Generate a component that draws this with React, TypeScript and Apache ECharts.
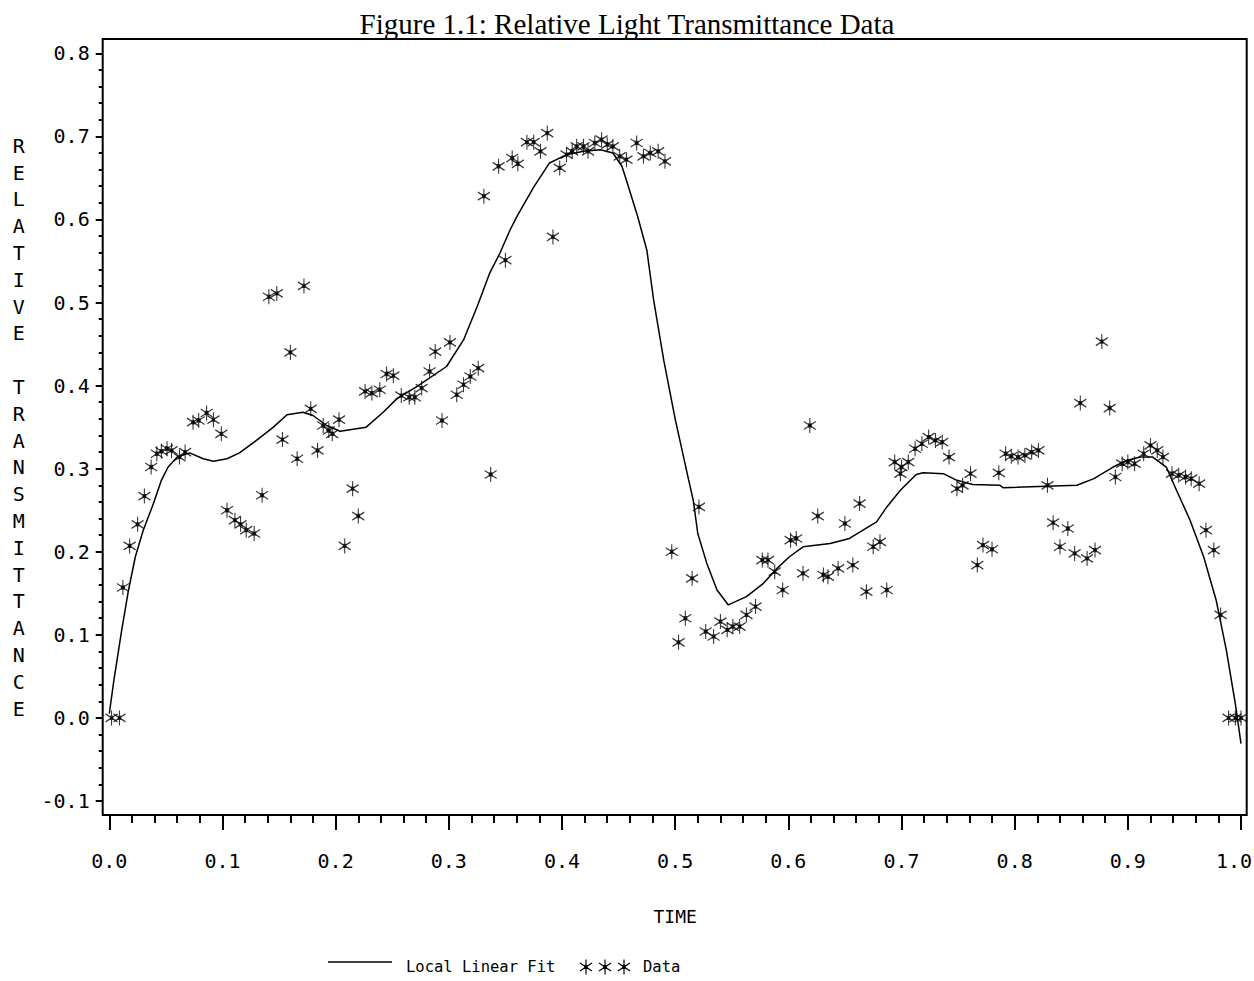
import { useEffect, useRef } from "react";
import * as echarts from "echarts";

const titleText = "Figure 1.1: Relative Light Transmittance Data";
const xAxisName = "TIME";
const yAxisName = "RELATIVE TRANSMITTANCE";
const legendFitLabel = "Local Linear Fit";
const legendDataLabel = "Data";

const xTickLabels = ["0.0", "0.1", "0.2", "0.3", "0.4", "0.5", "0.6", "0.7", "0.8", "0.9", "1.0"];
const yTickLabels = ["-0.1", "0.0", "0.1", "0.2", "0.3", "0.4", "0.5", "0.6", "0.7", "0.8"];

// Local linear fit curve
const fitX = [
  0.0, 0.004, 0.011, 0.017, 0.023, 0.03, 0.039, 0.046, 0.052, 0.06, 0.071, 0.083, 0.092, 0.104, 0.115,
  0.13, 0.145, 0.157, 0.171, 0.18, 0.192, 0.204, 0.227, 0.242, 0.254, 0.272, 0.298, 0.313, 0.325, 0.336,
  0.345, 0.354, 0.36, 0.375, 0.389, 0.404, 0.419, 0.434, 0.445, 0.453, 0.457, 0.467, 0.475, 0.481, 0.49,
  0.5, 0.512, 0.516, 0.52, 0.528, 0.537, 0.547, 0.563, 0.578, 0.59, 0.601, 0.613, 0.637, 0.654, 0.678,
  0.686, 0.699, 0.713, 0.719, 0.737, 0.749, 0.763, 0.787, 0.79, 0.855, 0.87, 0.887, 0.899, 0.911, 0.922,
  0.934, 0.943, 0.955, 0.967, 0.978, 0.987, 0.995, 1.0,
];
const fitY = [
  0.005, 0.045, 0.106, 0.154, 0.194, 0.226, 0.258, 0.286, 0.302, 0.314, 0.319, 0.312, 0.309, 0.312, 0.319,
  0.334, 0.35, 0.365, 0.368, 0.364, 0.352, 0.345, 0.35, 0.368, 0.384, 0.399, 0.423, 0.455, 0.495, 0.535,
  0.559, 0.587, 0.603, 0.639, 0.668, 0.678, 0.682, 0.684, 0.68, 0.664, 0.647, 0.603, 0.563, 0.503, 0.43,
  0.36, 0.286, 0.262, 0.222, 0.186, 0.154, 0.136, 0.146, 0.162, 0.18, 0.194, 0.206, 0.21, 0.216, 0.236,
  0.252, 0.274, 0.293, 0.295, 0.294, 0.286, 0.281, 0.28, 0.277, 0.28, 0.288, 0.302, 0.31, 0.314, 0.314,
  0.302, 0.274, 0.238, 0.194, 0.142, 0.082, 0.017, -0.031,
];

// Observed data
const dataX = [
  0.002, 0.009, 0.012, 0.018, 0.025, 0.031, 0.037, 0.042, 0.046, 0.051, 0.055, 0.062, 0.067, 0.074, 0.079,
  0.086, 0.092, 0.099, 0.104, 0.111, 0.116, 0.121, 0.128, 0.135, 0.141, 0.148, 0.153, 0.16, 0.166, 0.172,
  0.178, 0.184, 0.189, 0.194, 0.197, 0.203, 0.208, 0.215, 0.22, 0.226, 0.232, 0.239, 0.245, 0.251, 0.258,
  0.265, 0.27, 0.276, 0.283, 0.288, 0.294, 0.301, 0.307, 0.313, 0.319, 0.326, 0.331, 0.337, 0.344, 0.35,
  0.356, 0.361, 0.369, 0.375, 0.381, 0.387, 0.392, 0.398, 0.404, 0.409, 0.413, 0.419, 0.423, 0.429, 0.435,
  0.44, 0.445, 0.451, 0.457, 0.466, 0.472, 0.478, 0.485, 0.491, 0.497, 0.503, 0.509, 0.515, 0.521, 0.527,
  0.534, 0.54, 0.546, 0.551, 0.557, 0.563, 0.571, 0.577, 0.582, 0.588, 0.595, 0.602, 0.607, 0.613, 0.619,
  0.626, 0.631, 0.635, 0.644, 0.65, 0.657, 0.663, 0.669, 0.675, 0.681, 0.687, 0.694, 0.699, 0.7, 0.706,
  0.712, 0.718, 0.724, 0.73, 0.736, 0.742, 0.749, 0.754, 0.761, 0.767, 0.772, 0.78, 0.786, 0.792, 0.797,
  0.803, 0.809, 0.815, 0.821, 0.829, 0.834, 0.84, 0.847, 0.853, 0.858, 0.864, 0.871, 0.877, 0.884, 0.889,
  0.895, 0.9, 0.906, 0.914, 0.92, 0.926, 0.931, 0.939, 0.945, 0.951, 0.956, 0.963, 0.969, 0.976, 0.982,
  0.989, 0.995, 1.0,
];
const dataY = [
  0.0, 0.0, 0.157, 0.207, 0.233, 0.267, 0.302, 0.318, 0.321, 0.324, 0.322, 0.314, 0.32, 0.356, 0.358,
  0.367, 0.359, 0.342, 0.25, 0.238, 0.233, 0.226, 0.222, 0.268, 0.507, 0.511, 0.335, 0.44, 0.312, 0.52,
  0.372, 0.322, 0.352, 0.346, 0.342, 0.359, 0.207, 0.276, 0.243, 0.393, 0.391, 0.395, 0.414, 0.412, 0.388,
  0.386, 0.386, 0.397, 0.417, 0.441, 0.358, 0.452, 0.389, 0.401, 0.411, 0.421, 0.628, 0.293, 0.664, 0.551,
  0.674, 0.667, 0.693, 0.693, 0.682, 0.704, 0.579, 0.662, 0.678, 0.682, 0.688, 0.688, 0.682, 0.692, 0.696,
  0.69, 0.688, 0.676, 0.672, 0.692, 0.676, 0.68, 0.682, 0.67, 0.2, 0.091, 0.12, 0.168, 0.254, 0.104,
  0.098, 0.116, 0.106, 0.11, 0.11, 0.124, 0.134, 0.19, 0.19, 0.176, 0.154, 0.214, 0.216, 0.174, 0.352,
  0.243, 0.172, 0.17, 0.18, 0.234, 0.184, 0.258, 0.152, 0.206, 0.212, 0.154, 0.308, 0.294, 0.302, 0.308,
  0.324, 0.33, 0.338, 0.334, 0.332, 0.314, 0.276, 0.28, 0.294, 0.184, 0.208, 0.203, 0.295, 0.318, 0.315,
  0.314, 0.316, 0.32, 0.322, 0.28, 0.235, 0.206, 0.228, 0.198, 0.379, 0.192, 0.202, 0.453, 0.373, 0.29,
  0.306, 0.308, 0.306, 0.318, 0.328, 0.322, 0.314, 0.294, 0.292, 0.29, 0.288, 0.282, 0.226, 0.202, 0.124,
  0.0, 0.0, 0.0,
];

const ASTERISK = "M6,0L6,15M0,3.5L12,11.5M0,11.5L12,3.5M4.5,6L7.5,6L7.5,9L4.5,9Z";
const SAS_FONT = "'DejaVu Sans Mono', 'Liberation Mono', monospace";

let registered = false;
function ensureShape() {
  if (registered) return;
  echarts.graphic.registerShape("asterisk", echarts.graphic.extendPath(ASTERISK, {}) as any);
  registered = true;
}

export default function App() {
  const ref = useRef<HTMLDivElement>(null);

  useEffect(() => {
    if (!ref.current) return;
    ensureShape();
    const chart = echarts.init(ref.current, undefined, { renderer: "svg" });

    const fitData = fitX.map((x, i) => [x, fitY[i]]);
    const scatterData = dataX.map((x, i) => [x, dataY[i]]);

    const xFmt = (v: number) => {
      const i = Math.round(v * 10);
      const s = xTickLabels[i] ?? "";
      return i === xTickLabels.length - 1 ? "{last|" + s + "}" : s;
    };
    const yFmt = (v: number) => yTickLabels[Math.round(v * 10) + 1] ?? "";

    const legendStars = [586, 605, 624];

    chart.setOption({
      animation: false,
      backgroundColor: "#ffffff",
      title: {
        text: titleText,
        left: "center",
        top: 4,
        textStyle: {
          fontFamily: "'Liberation Serif', serif",
          fontSize: 29,
          fontWeight: "normal",
          color: "#000",
        },
      },
      grid: {
        left: 109.3,
        right: 13,
        top: 53.3,
        bottom: 180,
        containLabel: false,
        outerBoundsMode: "none",
      },
      xAxis: {
        type: "value",
        min: 0,
        max: 1,
        interval: 0.1,
        offset: 14,
        name: xAxisName,
        nameLocation: "middle",
        nameGap: 92,
        nameTextStyle: { fontFamily: SAS_FONT, fontSize: 18, color: "#000" },
        axisLine: { show: false, onZero: false },
        axisTick: { show: true, length: 15, lineStyle: { color: "#000", width: 2 } },
        minorTick: { show: true, splitNumber: 5, length: 8, lineStyle: { color: "#000", width: 2 } },
        splitLine: { show: false },
        minorSplitLine: { show: false },
        axisLabel: {
          margin: 36,
          fontFamily: SAS_FONT,
          fontSize: 20,
          color: "#000",
          formatter: xFmt,
          rich: {
            last: { fontFamily: SAS_FONT, fontSize: 20, color: "#000", padding: [0, 14, 0, 0] },
          },
        },
      },
      yAxis: {
        type: "value",
        min: -0.1,
        max: 0.8,
        interval: 0.1,
        offset: 6.6,
        name: yAxisName.split("").join("\n"),
        nameLocation: "middle",
        nameRotate: 0,
        nameGap: 78,
        nameTextStyle: { fontFamily: SAS_FONT, fontSize: 20, color: "#000", lineHeight: 26.8 },
        axisLine: { show: false, onZero: false },
        axisTick: { show: true, length: 7, lineStyle: { color: "#000", width: 2 } },
        minorTick: { show: true, splitNumber: 5, length: 4, lineStyle: { color: "#000", width: 2 } },
        splitLine: { show: false },
        minorSplitLine: { show: false },
        axisLabel: { margin: 13, fontFamily: SAS_FONT, fontSize: 20, color: "#000", formatter: yFmt },
      },
      series: [
        {
          name: legendFitLabel,
          type: "line",
          data: fitData,
          showSymbol: false,
          symbol: "none",
          lineStyle: { color: "#000", width: 1.5 },
          z: 2,
        },
        {
          name: legendDataLabel,
          type: "scatter",
          data: scatterData,
          symbol: "path://" + ASTERISK,
          symbolSize: [12, 15],
          itemStyle: { color: "#000", borderColor: "#000", borderWidth: 1.2 },
          z: 3,
        },
      ],
      graphic: [
        {
          type: "rect",
          shape: { x: 102.7, y: 39, width: 1144, height: 776 },
          style: { fill: "none", stroke: "#000", lineWidth: 2 },
          silent: true,
          z: 100,
        },
        {
          type: "line",
          shape: { x1: 328, y1: 962, x2: 392, y2: 962 },
          style: { stroke: "#000", lineWidth: 1.5 },
          silent: true,
        },
        {
          type: "text",
          x: 406,
          y: 967,
          style: {
            text: legendFitLabel,
            fontFamily: SAS_FONT,
            fontSize: 15.5,
            fill: "#000",
            verticalAlign: "middle",
          },
          silent: true,
        },
        ...legendStars.map((cx) => ({
          type: "asterisk",
          x: cx - 6,
          y: 959.5,
          style: { fill: "#000", stroke: "#000", lineWidth: 1.2 },
          silent: true,
        })),
        {
          type: "text",
          x: 643,
          y: 967,
          style: {
            text: legendDataLabel,
            fontFamily: SAS_FONT,
            fontSize: 15.5,
            fill: "#000",
            verticalAlign: "middle",
          },
          silent: true,
        },
      ],
    });

    return () => chart.dispose();
  }, []);

  return (
    <div
      ref={ref}
      style={{ position: "fixed", left: 0, top: 0, width: 1254, height: 981, background: "#fff" }}
    />
  );
}
